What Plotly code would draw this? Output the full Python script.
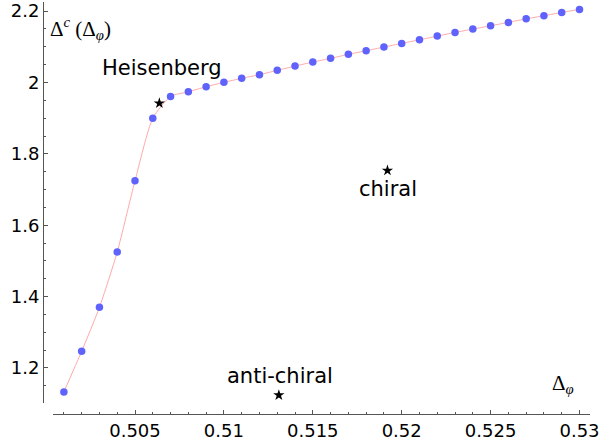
import plotly.graph_objects as go

# Critical dimension Delta^c as a function of Delta_phi
delta_phi = [0.501, 0.502, 0.503, 0.504, 0.505, 0.506, 0.507, 0.508, 0.509, 0.510,
             0.511, 0.512, 0.513, 0.514, 0.515, 0.516, 0.517, 0.518, 0.519, 0.520,
             0.521, 0.522, 0.523, 0.524, 0.525, 0.526, 0.527, 0.528, 0.529, 0.530]
delta_c = [1.133, 1.247, 1.370, 1.525, 1.7245, 1.900, 1.961, 1.974, 1.988, 2.0005,
           2.0117, 2.022, 2.034, 2.046, 2.0573, 2.0677, 2.0789, 2.089, 2.0993, 2.1096,
           2.1197, 2.130, 2.1404, 2.1497, 2.159, 2.1685, 2.1785, 2.187, 2.1964, 2.2048]

# Special fixed points
fp_names = ["Heisenberg", "chiral", "anti-chiral"]
fp_x = [0.50637, 0.5192, 0.51309]
fp_y = [1.9418, 1.7533, 1.1239]
# label offsets relative to each star (pixels)
fp_dx = [3, 1, 1]
fp_dy = [35, -18, 19]

x_ticks = [0.505, 0.51, 0.515, 0.52, 0.525, 0.53]
y_ticks = [1.2, 1.4, 1.6, 1.8, 2.0, 2.2]

W, H = 603, 442
axis_color = "#555555"
tick_font = dict(family="DejaVu Sans", size=18, color="black")

fig = go.Figure()

fig.add_trace(go.Scatter(
    x=delta_phi, y=delta_c, mode="lines",
    line=dict(color="#ffaaaa", width=1, shape="spline", smoothing=0.6),
    hoverinfo="skip", showlegend=False,
))
fig.add_trace(go.Scatter(
    x=delta_phi, y=delta_c, mode="markers",
    marker=dict(color="#5f63fc", size=7.5),
    showlegend=False,
))
fig.add_trace(go.Scatter(
    x=fp_x, y=fp_y, mode="markers",
    marker=dict(symbol="star", color="black", size=8.5, line=dict(width=0)),
    showlegend=False,
))

for name, x, y, dx, dy in zip(fp_names, fp_x, fp_y, fp_dx, fp_dy):
    fig.add_annotation(
        x=x, y=y, xref="x", yref="y", text=name, showarrow=False,
        xshift=dx, yshift=dy,
        font=dict(family="DejaVu Sans", size=21, color="black"),
    )

# Axis labels
fig.add_annotation(
    x=48 / W, y=1 - 28 / H, xref="paper", yref="paper", xanchor="left", yanchor="middle",
    text="Δ<sup><i>c</i></sup> (Δ<sub><i>φ</i></sub>)", showarrow=False,
    font=dict(family="Liberation Serif", size=21, color="black"),
)
fig.add_annotation(
    x=550 / W, y=1 - 384 / H, xref="paper", yref="paper", xanchor="left", yanchor="middle",
    text="Δ<sub><i>φ</i></sub>", showarrow=False,
    font=dict(family="Liberation Serif", size=21, color="black"),
)

fig.update_layout(
    width=W, height=H, autosize=False,
    margin=dict(l=0, r=0, t=0, b=0),
    paper_bgcolor="white", plot_bgcolor="white",
    xaxis=dict(
        domain=[53 / W, 590 / W], range=[0.500388, 0.530591],
        anchor="free", position=1 - 414 / H,
        showgrid=False, zeroline=False,
        showline=True, linecolor=axis_color, linewidth=1,
        tickmode="array", tickvals=x_ticks,
        ticks="inside", ticklen=4, tickcolor=axis_color,
        tickfont=tick_font, automargin=False,
        minor=dict(dtick=0.001, tick0=0.5, ticks="inside", ticklen=2, tickcolor=axis_color, showgrid=False),
    ),
    yaxis=dict(
        domain=[1 - 403 / H, 1 - 2 / H], range=[1.1019, 2.2256],
        anchor="free", position=43 / W,
        showgrid=False, zeroline=False,
        showline=True, linecolor=axis_color, linewidth=1,
        tickmode="array", tickvals=y_ticks,
        ticks="inside", ticklen=4, tickcolor=axis_color,
        tickfont=tick_font, automargin=False,
        minor=dict(dtick=0.05, tick0=1.0, ticks="inside", ticklen=2, tickcolor=axis_color, showgrid=False),
    ),
)

fig.write_html("out.html")
